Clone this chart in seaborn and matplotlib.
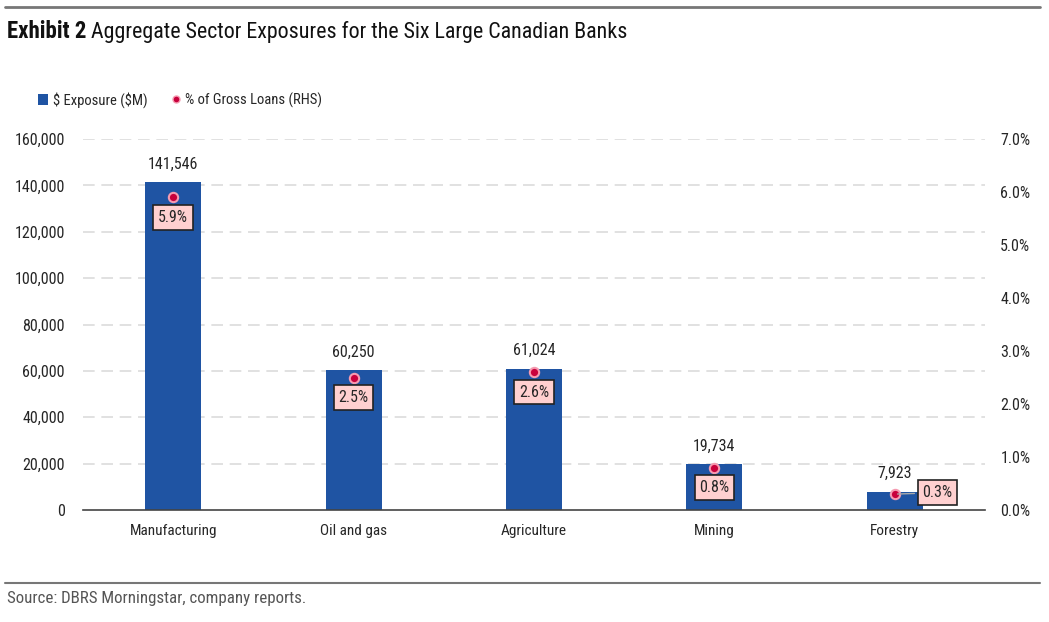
import matplotlib
matplotlib.use("Agg")
import matplotlib.pyplot as plt
import seaborn as sns
import pandas as pd
from matplotlib.lines import Line2D
from matplotlib.patches import Patch

categories = ["Manufacturing", "Oil and gas", "Agriculture", "Mining", "Forestry"]
exposure = [141546, 60250, 61024, 19734, 7923]
pct_loans = [5.9, 2.5, 2.6, 0.8, 0.3]
left_ticks = [0, 20000, 40000, 60000, 80000, 100000, 120000, 140000, 160000]
right_ticks = [0, 1, 2, 3, 4, 5, 6, 7]

sns.set_style("white")
FONT = ["Roboto Condensed", "IBM Plex Sans Condensed", "DejaVu Sans"]
plt.rcParams["font.family"] = FONT
plt.rcParams["text.parse_math"] = False

df = pd.DataFrame({"cat": categories, "exp": exposure, "pct": pct_loans})

fig = plt.figure(figsize=(10.49, 6.22), dpi=100)
W, H = 1049, 622
ax = fig.add_axes([83 / W, 1 - 510 / H, (985 - 83) / W, (510 - 139) / H])

BLUE = "#1f54a3"
TXT = "#262626"
sns.barplot(data=df, x="cat", y="exp", ax=ax, color=BLUE, width=0.31,
            saturation=1, edgecolor="none")
ax.set_xlim(-0.5, 4.5)
ax.set_ylim(0, 160000)
ax.set_yticks(left_ticks)
ax.set_yticklabels([f"{v:,}" for v in left_ticks])
ax.set_xlabel("")
ax.set_ylabel("")
for t in left_ticks[1:]:
    ax.axhline(t, color="#dcdcdc", lw=1.2, ls=(0, (7, 4)), zorder=0)
ax.set_axisbelow(True)
for s in ["top", "right", "left"]:
    ax.spines[s].set_visible(False)
ax.spines["bottom"].set_color("#444444")
ax.spines["bottom"].set_linewidth(1.2)
ax.tick_params(axis="y", length=0, labelsize=11.5, colors=TXT, pad=13)
ax.tick_params(axis="x", length=0, labelsize=11, colors=TXT, pad=10)

for i, v in enumerate(exposure):
    ax.text(i, v + 4500, f"{v:,}", ha="center", va="bottom", fontsize=11.5, color=TXT)

ax2 = ax.twinx()
ax2.set_ylim(0, 7)
sns.scatterplot(x=list(range(len(categories))), y=pct_loans, ax=ax2, color="#c8003c",
                s=45, edgecolor="#f59ab0", linewidth=1.5, zorder=5, legend=False)
ax2.set_xlim(-0.5, 4.5)
ax2.set_yticks(right_ticks)
ax2.set_yticklabels([f"{v:.1f}%" for v in right_ticks])
for s in ["top", "right", "left", "bottom"]:
    ax2.spines[s].set_visible(False)
ax2.tick_params(axis="y", length=0, labelsize=11.5, colors=TXT, pad=11)

box = dict(boxstyle="square,pad=0.3", fc="#ffd0d0", ec="#222222", lw=1.2)
for i, p in enumerate(pct_loans):
    if i == len(pct_loans) - 1:
        ax2.annotate(f"{p:.1f}%", (i, p), xytext=(20, 1), textcoords="offset points",
                     ha="left", va="center", fontsize=11.5, bbox=box, zorder=6, color=TXT,
                     arrowprops=dict(arrowstyle="-", color="#aaaaaa", lw=1))
    else:
        ax2.annotate(f"{p:.1f}%", (i, p), xytext=(0, -9), textcoords="offset points",
                     ha="center", va="top", fontsize=11.5, bbox=box, zorder=6, color=TXT)

handles = [Patch(facecolor=BLUE, edgecolor="none"),
           Line2D([], [], marker="o", ls="none", color="#c8003c", markeredgecolor="#f59ab0",
                  markersize=5)]
fig.legend(handles, ["$ Exposure ($M)", "% of Gross Loans (RHS)"], loc="center left",
           bbox_to_anchor=(38 / W, 1 - 100 / H), ncol=2, frameon=False, fontsize=10.5,
           handlelength=0.7, handleheight=0.7, handletextpad=0.3, columnspacing=1.6,
           borderaxespad=0, borderpad=0, labelcolor=TXT)

fig.add_artist(Line2D([5 / W, 1040 / W], [1 - 7 / H, 1 - 7 / H], color="#777777", lw=2))
fig.add_artist(Line2D([5 / W, 1040 / W], [1 - 583 / H, 1 - 583 / H], color="#777777", lw=1.5))
t1 = fig.text(7 / W, 1 - 32 / H, "Exhibit 2", fontsize=16.5, fontweight="bold", va="center",
              color="#111111")
fig.canvas.draw()
bb = t1.get_window_extent()
fig.text((bb.x1 + 5) / W, 1 - 32 / H, "Aggregate Sector Exposures for the Six Large Canadian Banks",
         fontsize=15.8, va="center", color="#111111")
fig.text(7 / W, 1 - 599 / H, "Source: DBRS Morningstar, company reports.", fontsize=12.2,
         va="center", color="#555555")

fig.savefig("out.png", dpi=100)
